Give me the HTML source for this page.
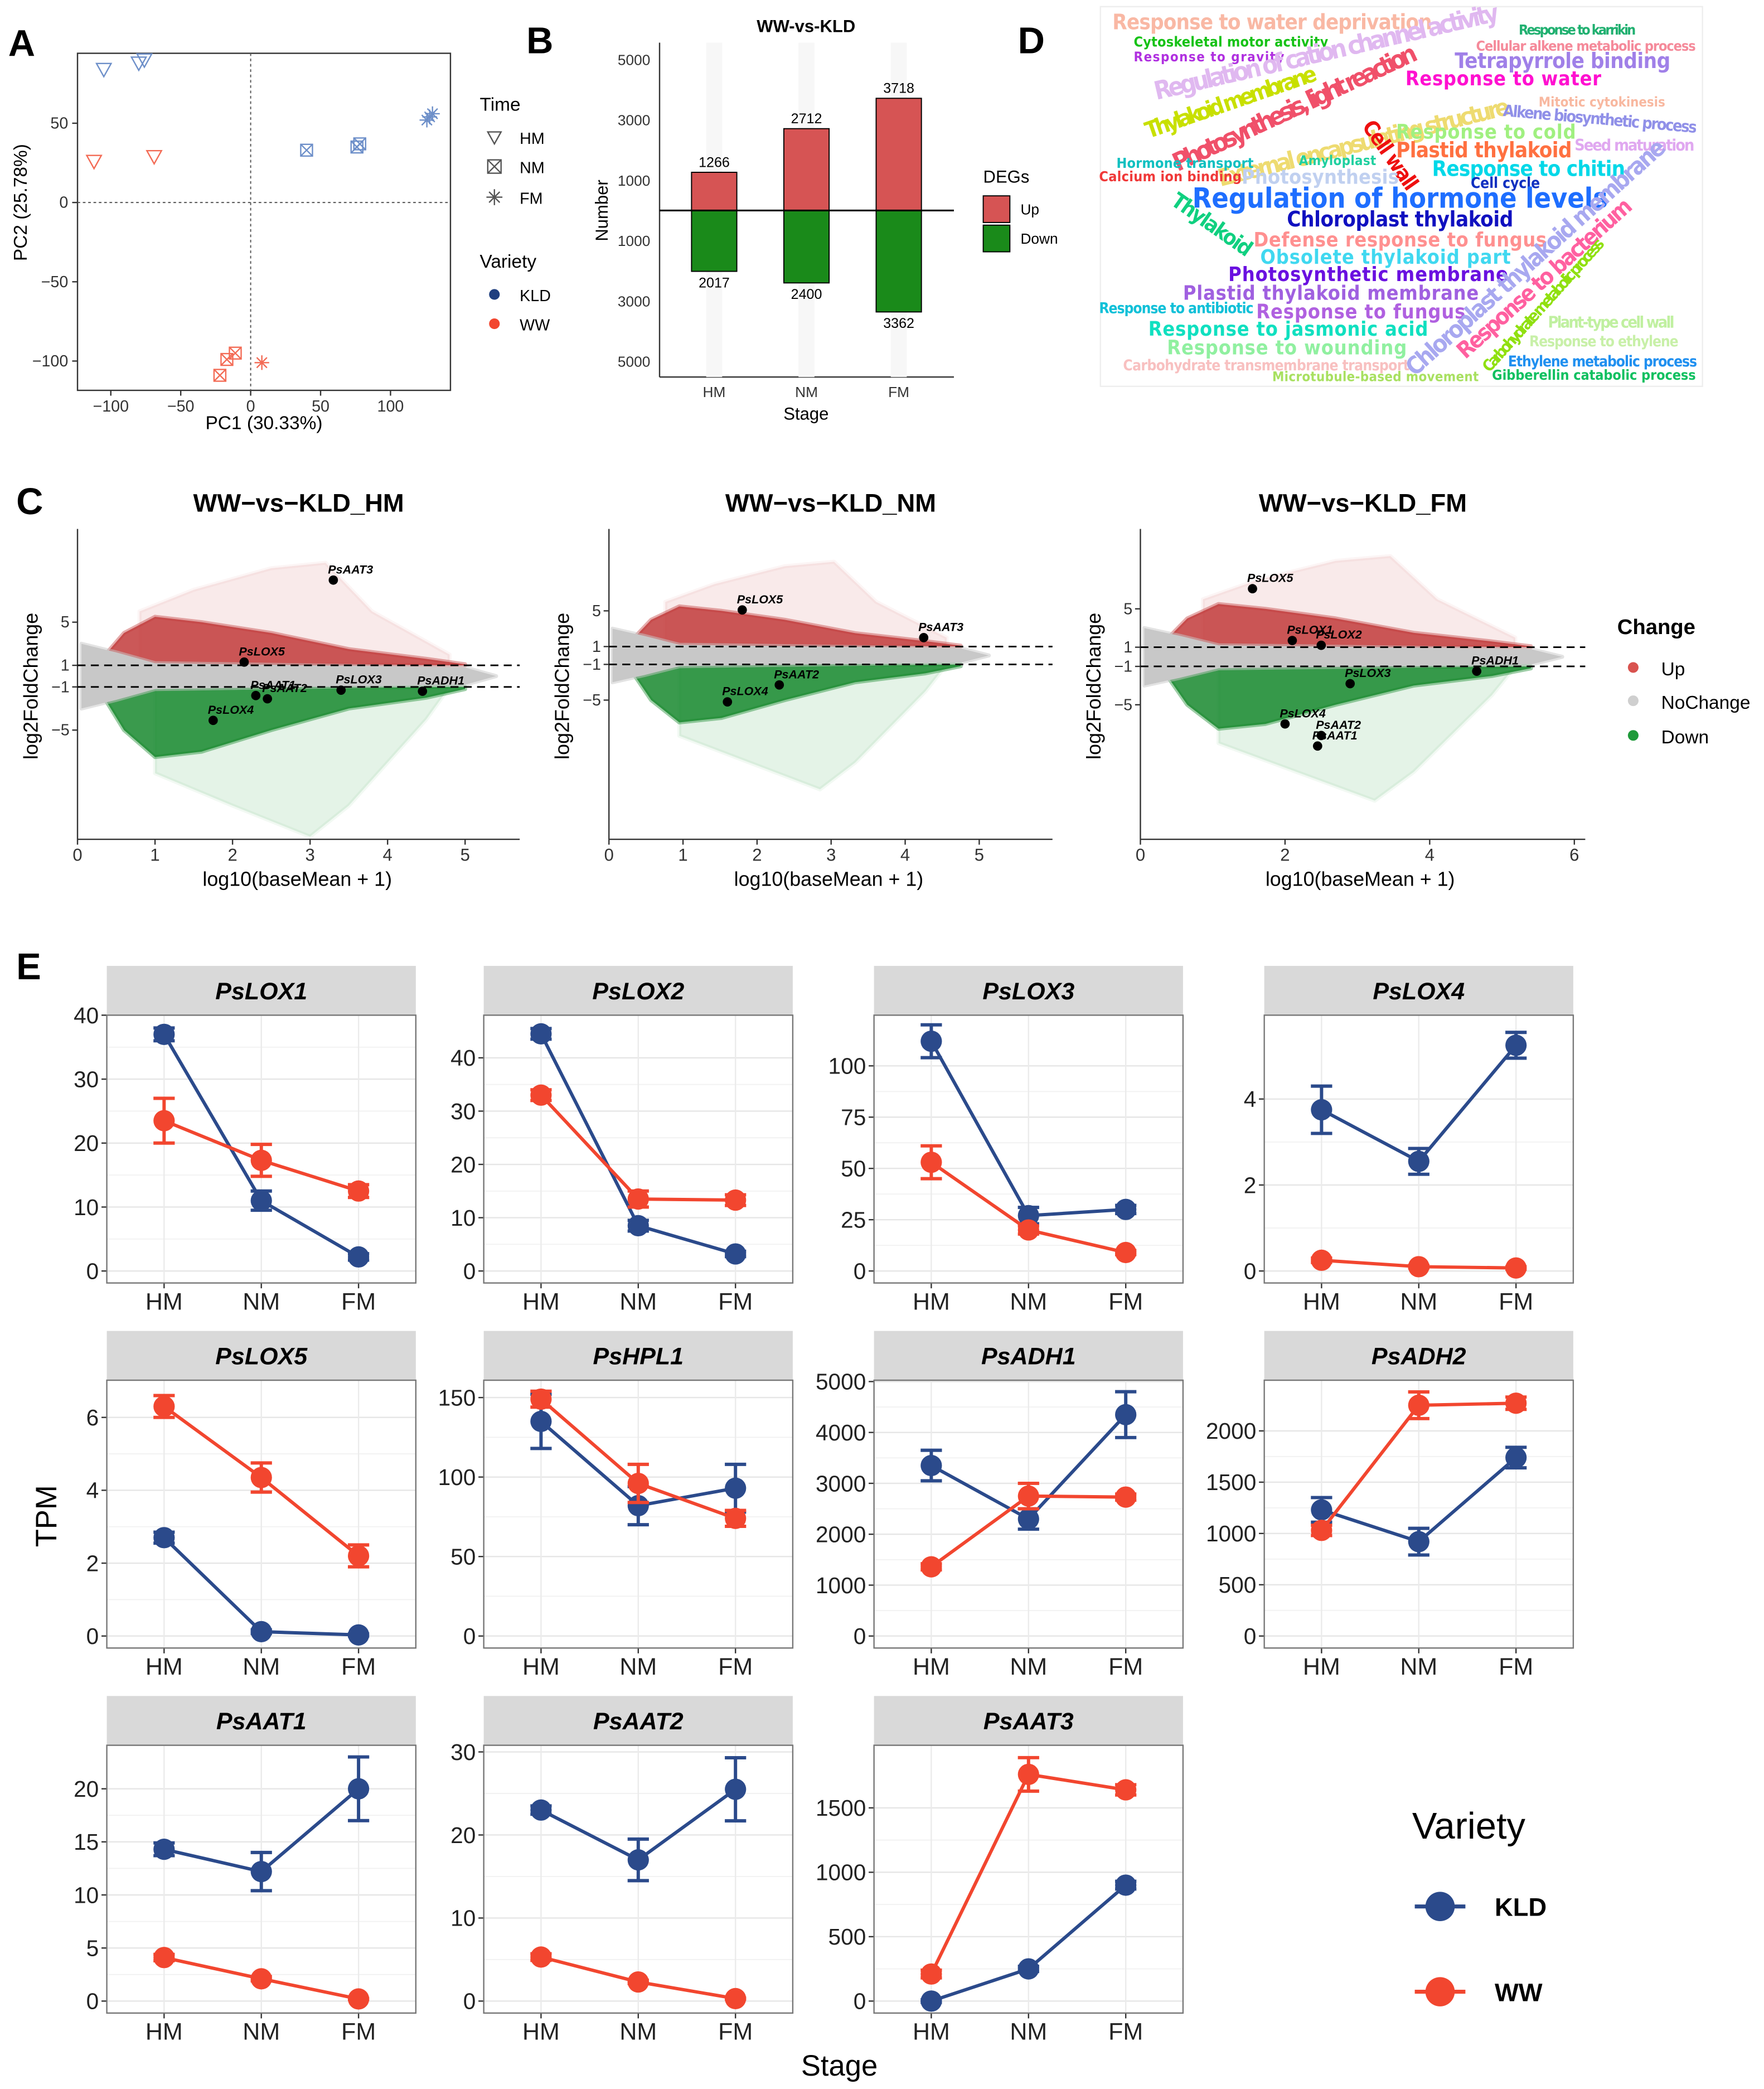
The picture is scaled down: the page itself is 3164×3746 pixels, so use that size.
<!DOCTYPE html>
<html><head><meta charset="utf-8">
<style>
html,body{margin:0;padding:0;background:#fff;}
svg{display:block;font-family:"Liberation Sans",Arial,sans-serif;}
.wc text{font-family:"DejaVu Sans Condensed","DejaVu Sans","Liberation Sans",sans-serif;font-weight:bold;}
</style></head>
<body>
<svg id="fig" width="3164" height="3746" viewBox="0 0 1324 1568" xmlns="http://www.w3.org/2000/svg">
<rect x="0" y="0" width="1324" height="1568" fill="#fff"/>
<text x="6" y="42" font-size="28" font-weight="bold">A</text>
<text x="395" y="40" font-size="28" font-weight="bold">B</text>
<text x="764" y="40" font-size="28" font-weight="bold">D</text>
<text x="12" y="386" font-size="28" font-weight="bold">C</text>
<text x="12" y="735" font-size="28" font-weight="bold">E</text>

<g id="panelA">
<rect x="58" y="40" width="280" height="253" fill="none" stroke="#333" stroke-width="1"/>
<text x="198" y="322" font-size="14" text-anchor="middle">PC1 (30.33%)</text>
<text transform="translate(20,152) rotate(-90)" font-size="14" text-anchor="middle">PC2 (25.78%)</text>
<text x="360" y="83" font-size="14">Time</text>
<text x="390" y="108" font-size="12">HM</text>
<text x="390" y="130" font-size="12">NM</text>
<text x="390" y="153" font-size="12">FM</text>
<text x="360" y="201" font-size="14">Variety</text>
<circle cx="371" cy="221" r="4" fill="#1f3f7f"/>
<text x="390" y="226" font-size="12">KLD</text>
<circle cx="371" cy="243" r="4" fill="#f2462f"/>
<text x="390" y="248" font-size="12">WW</text>
</g>

<g id="panelB">
<text x="605" y="24" font-size="13" font-weight="bold" text-anchor="middle">WW-vs-KLD</text>
<text x="605" y="315" font-size="13" text-anchor="middle">Stage</text>
<text transform="translate(456,158) rotate(-90)" font-size="13" text-anchor="middle">Number</text>
<text x="738" y="137" font-size="13">DEGs</text>
<rect x="738" y="147" width="20" height="20" fill="#d65454" stroke="#000" stroke-width="0.8"/>
<text x="766" y="161" font-size="11">Up</text>
<rect x="738" y="169" width="20" height="20" fill="#1a8a1a" stroke="#000" stroke-width="0.8"/>
<text x="766" y="183" font-size="11">Down</text>
</g>

<g class="wc">
<rect x="826" y="5" width="452" height="285" fill="#fff" stroke="#eee"/>
<text x="835" y="22" font-size="16" fill="#f9b8a4" textLength="240">Response to water deprivation</text>
<text x="851" y="35" font-size="10.5" fill="#17c217" textLength="146">Cytoskeletal motor activity</text>
<text x="851" y="46" font-size="10" fill="#b030e0" textLength="113">Response to gravity</text>
<text transform="translate(868,75) rotate(-13)" font-size="19" fill="#e0b8f0" textLength="265">Regulation of cation channel activity</text>
<text transform="translate(862,104) rotate(-19)" font-size="17" fill="#c8e000" textLength="135">Thylakoid membrane</text>
<text transform="translate(884,129) rotate(-25)" font-size="19" fill="#f0506a" textLength="200">Photosynthesis, light reaction</text>
<text transform="translate(916,140) rotate(-14)" font-size="18" fill="#eedb70" textLength="225">External encapsulating structure</text>
<text x="1140" y="26" font-size="10.5" fill="#20b070" textLength="88">Response to karrikin</text>
<text x="1108" y="38" font-size="10.5" fill="#f58a9a" textLength="165">Cellular alkene metabolic process</text>
<text x="1092" y="51" font-size="16" fill="#a080e8" textLength="162">Tetrapyrrole binding</text>
<text x="1055" y="64" font-size="15" fill="#ff10d0" textLength="147">Response to water</text>
<text x="1155" y="80" font-size="10" fill="#f8b8a0" textLength="95">Mitotic cytokinesis</text>
<text transform="translate(1128,87) rotate(5)" font-size="12" fill="#9090e8" textLength="146">Alkene biosynthetic process</text>
<text x="1048" y="104" font-size="15" fill="#a0f080" textLength="135">Response to cold</text>
<text transform="translate(1022,95) rotate(55)" font-size="16" fill="#ee1010" textLength="60">Cell wall</text>
<text x="1048" y="118" font-size="16" fill="#ff7040" textLength="132">Plastid thylakoid</text>
<text x="1182" y="113" font-size="12" fill="#e0a8f0" textLength="90">Seed maturation</text>
<text x="838" y="126" font-size="10.5" fill="#10c0c0" textLength="103">Hormone transport</text>
<text x="825" y="136" font-size="10.5" fill="#f03838" textLength="107">Calcium ion binding</text>
<text x="932" y="138" font-size="15" fill="#c0d0f0" textLength="118">Photosynthesis</text>
<text x="975" y="124" font-size="10" fill="#20d0a0" textLength="58">Amyloplast</text>
<text x="1075" y="132" font-size="16" fill="#00d8e8" textLength="145">Response to chitin</text>
<text x="1104" y="141" font-size="11" fill="#1030c0" textLength="52">Cell cycle</text>
<text x="895" y="156" font-size="21" fill="#1e6eff" textLength="312">Regulation of hormone levels</text>
<text transform="translate(878,153) rotate(35)" font-size="16" fill="#10d080" textLength="70">Thylakoid</text>
<text x="966" y="170" font-size="16" fill="#1010c0" textLength="170">Chloroplast thylakoid</text>
<text x="941" y="185" font-size="15" fill="#ff9090" textLength="220">Defense response to fungus</text>
<text x="946" y="198" font-size="15" fill="#40d8f0" textLength="188">Obsolete thylakoid part</text>
<text x="922" y="211" font-size="15" fill="#6a10e0" textLength="210">Photosynthetic membrane</text>
<text x="888" y="225" font-size="15" fill="#a060e0" textLength="222">Plastid thylakoid membrane</text>
<text x="825" y="235" font-size="11" fill="#10c0d8" textLength="116">Response to antibiotic</text>
<text x="943" y="239" font-size="15" fill="#b060e0" textLength="157">Response to fungus</text>
<text x="862" y="252" font-size="15" fill="#10e0c0" textLength="210">Response to jasmonic acid</text>
<text x="876" y="266" font-size="15" fill="#90f0a0" textLength="180">Response to wounding</text>
<text x="843" y="278" font-size="11" fill="#f8c0c0" textLength="215">Carbohydrate transmembrane transport</text>
<text x="955" y="286" font-size="10" fill="#a8e060" textLength="155">Microtubule-based movement</text>
<text transform="translate(1062,283) rotate(-42)" font-size="18" fill="#a8a8f0" textLength="255">Chloroplast thylakoid membrane</text>
<text transform="translate(1100,270) rotate(-42)" font-size="17" fill="#ff60a0" textLength="170">Response to bacterium</text>
<text transform="translate(1118,280) rotate(-48)" font-size="12" fill="#90e010" textLength="130">Carbohydrate metabolic process</text>
<text x="1162" y="246" font-size="12" fill="#c0f0a0" textLength="95">Plant-type cell wall</text>
<text x="1148" y="260" font-size="11" fill="#c8f0a8" textLength="112">Response to ethylene</text>
<text x="1132" y="275" font-size="11" fill="#2090f0" textLength="142">Ethylene metabolic process</text>
<text x="1120" y="285" font-size="10.5" fill="#10c060" textLength="153">Gibberellin catabolic process</text>
</g>

<g>
<text x="1214" y="476" font-size="16" font-weight="bold">Change</text>
<circle cx="1226" cy="501" r="4" fill="#d9534f"/>
<text x="1247" y="507" font-size="14">Up</text>
<circle cx="1226" cy="526" r="4" fill="#cfcfcf"/>
<text x="1247" y="532" font-size="14">NoChange</text>
<circle cx="1226" cy="552" r="4" fill="#1f9a3a"/>
<text x="1247" y="558" font-size="14">Down</text>
</g>

<text transform="translate(42,1138) rotate(-90)" font-size="22" text-anchor="middle">TPM</text>
<text x="630" y="1558" font-size="22" text-anchor="middle">Stage</text>
<g>
<text x="1060" y="1380" font-size="28">Variety</text>
<line x1="1062" y1="1431" x2="1100" y2="1431" stroke="#2b4a8b" stroke-width="3"/>
<circle cx="1081" cy="1431" r="11" fill="#2b4a8b"/>
<text x="1122" y="1438" font-size="19" font-weight="bold">KLD</text>
<line x1="1062" y1="1495" x2="1100" y2="1495" stroke="#f2462f" stroke-width="3"/>
<circle cx="1081" cy="1495" r="11" fill="#f2462f"/>
<text x="1122" y="1502" font-size="19" font-weight="bold">WW</text>
</g>

<g id="dyn"></g>
</svg>

<script>
const pcaPC1 = [-105,-80,-76,-112,-69, 40,76,78, 126,130,128, -22,-17,-11, 8];
const pcaPC2 = [84,88,90,26,29, 33,35,37, 52,56,54, -109,-99,-95,-101];
const pcaTime = ['HM','HM','HM','HM','HM','NM','NM','NM','FM','FM','FM','NM','NM','NM','FM'];
const pcaVariety = ['KLD','KLD','KLD','WW','WW','KLD','KLD','KLD','KLD','KLD','KLD','WW','WW','WW','WW'];
const pcaXTicks = [-100,-50,0,50,100];
const pcaYTicks = [50,0,-50,-100];

const degStages = ['HM','NM','FM'];
const degUp = [1266,2712,3718];
const degDown = [2017,2400,3362];
const degTicks = [5000,3000,1000,-1000,-3000,-5000];

const maTitles = ['WW\u2212vs\u2212KLD_HM','WW\u2212vs\u2212KLD_NM','WW\u2212vs\u2212KLD_FM'];
const maXTicks = [[0,1,2,3,4,5],[0,1,2,3,4,5],[0,2,4,6]];
const maGenes1 = ['PsAAT3','PsLOX5','PsLOX3','PsAAT1','PsAAT2','PsADH1','PsLOX4'];
const maMean1 = [3.3,2.15,3.4,2.3,2.45,4.45,1.75];
const maFC1 = [8.9,1.3,-1.3,-1.8,-2.1,-1.4,-4.1];
const maGenes2 = ['PsLOX5','PsAAT3','PsAAT2','PsLOX4'];
const maMean2 = [1.8,4.25,2.3,1.6];
const maFC2 = [5.1,2.0,-3.3,-5.2];
const maGenes3 = ['PsLOX5','PsLOX1','PsLOX2','PsADH1','PsLOX3','PsLOX4','PsAAT2','PsAAT1'];
const maMean3 = [1.55,2.1,2.5,4.65,2.9,2.0,2.5,2.45];
const maFC3 = [7.1,1.7,1.2,-1.5,-2.8,-7.0,-8.2,-9.3];
const upDenseMean = [0.3,0.6,1,1.6,2.5,3.5,4.5,5.0,5.0,0.3];
const upDenseFC =   [1.5,4,5.5,5,4,2.5,1.6,1.1,1,1];
const upSparseMean = [0.8,1.5,2.5,3.2,3.8,4.8,4.8,0.8];
const upSparseFC =   [6,8,10,10.5,6,2,1,1];
const dnDenseMean = [0.3,0.6,1,1.6,2.5,3.5,4.5,5.0,5.0,0.3];
const dnDenseFC =   [-1.5,-5,-7.5,-7,-5,-3,-2,-1.2,-1,-1];
const dnSparseMean = [1,2,3,3.5,4.5,4.8,1];
const dnSparseFC =   [-9,-12,-15,-12,-4,-1,-1];
const grayMean = [0.05,0.5,1,3,5,5.4,5,3,1,0.5,0.05];
const grayFC =   [3,2.2,1.2,1,0.8,0,-0.8,-1,-1.2,-2.2,-3];

const genes = ['PsLOX1','PsLOX2','PsLOX3','PsLOX4','PsLOX5','PsHPL1','PsADH1','PsADH2','PsAAT1','PsAAT2','PsAAT3'];
const stages = ['HM','NM','FM'];
const kldMean = [[37,11,2.2],[44.5,8.5,3.2],[112,27,30],[3.75,2.55,5.25],[2.7,0.12,0.03],[135,82,93],[3350,2300,4350],[1230,920,1740],[14.3,12.2,20],[23,17,25.5],[0,250,900]];
const kldErr  = [[1,1.5,0.5],[1,1,0.5],[8,4,2],[0.55,0.3,0.3],[0.15,0.05,0.03],[17,12,15],[300,200,450],[120,130,100],[0.6,1.8,3],[0.5,2.5,3.8],[10,20,30]];
const wwMean  = [[23.5,17.3,12.5],[33,13.5,13.3],[53,20,9],[0.25,0.1,0.07],[6.3,4.35,2.2],[149,96,74],[1360,2750,2730],[1030,2250,2270],[4.1,2.1,0.2],[5.3,2.3,0.3],[210,1760,1640]];
const wwErr   = [[3.5,2.5,1],[1,1.5,1],[8,2,1],[0.05,0.03,0.03],[0.3,0.4,0.3],[5,12,5],[60,250,60],[50,130,60],[0.3,0.2,0.05],[0.4,0.2,0.05],[30,130,40]];
const yTop = [40,48,124.7,5.95,7.02,160.9,5026,2494,24.1,30.8,1986];
const yTicks = [[0,10,20,30,40],[0,10,20,30,40],[0,25,50,75,100],[0,2,4],[0,2,4,6],[0,50,100,150],[0,1000,2000,3000,4000,5000],[0,500,1000,1500,2000],[0,5,10,15,20],[0,10,20,30],[0,500,1000,1500]];

const NS='http://www.w3.org/2000/svg';
const root=document.getElementById('dyn');
function mk(tag,attrs,parent){const e=document.createElementNS(NS,tag);for(const k in attrs)e.setAttribute(k,attrs[k]);(parent||root).appendChild(e);return e;}
function txt(s,attrs,parent){const e=mk('text',attrs,parent);e.textContent=s;return e;}

const xA=v=>188+v*1.05, yA=v=>152-v*1.19;
{
 const g=mk('g',{});
 
 
 mk('line',{x1:xA(0),y1:40,x2:xA(0),y2:293,stroke:'#555','stroke-dasharray':'2,2','stroke-width':0.8},g);
 mk('line',{x1:58,y1:yA(0),x2:338,y2:yA(0),stroke:'#555','stroke-dasharray':'2,2','stroke-width':0.8},g);
 pcaXTicks.forEach(t=>{mk('line',{x1:xA(t),x2:xA(t),y1:293,y2:297,stroke:'#333'},g);
  const l=txt(t<0?'\u2212'+(-t):String(t),{x:xA(t),y:309,'font-size':12,'text-anchor':'middle',fill:'#333'},g);
  
  });
 pcaYTicks.forEach(t=>{mk('line',{x1:54,x2:58,y1:yA(t),y2:yA(t),stroke:'#333'},g);
  const l=txt(t<0?'\u2212'+(-t):String(t),{x:51,y:yA(t)+4,'font-size':12,'text-anchor':'end',fill:'#333'},g);
  
  });
 pcaPC1.forEach((v,i)=>{
  const cx=xA(v),cy=yA(pcaPC2[i]),c=pcaVariety[i]==='KLD'?'#6d8fc9':'#f36b55';
  const p=mk('g',{stroke:c,fill:'none','stroke-width':1},g);
  
  
  const s=5.5;
  if(pcaTime[i]==='HM'){mk('polygon',{points:`${cx-s},${cy-s*0.8} ${cx+s},${cy-s*0.8} ${cx},${cy+s}`},p);}
  else if(pcaTime[i]==='NM'){mk('rect',{x:cx-s*0.8,y:cy-s*0.8,width:s*1.6,height:s*1.6},p);mk('path',{d:`M${cx-s*0.8},${cy-s*0.8}L${cx+s*0.8},${cy+s*0.8}M${cx+s*0.8},${cy-s*0.8}L${cx-s*0.8},${cy+s*0.8}`},p);}
  else {mk('path',{d:`M${cx-s},${cy}L${cx+s},${cy}M${cx},${cy-s}L${cx},${cy+s}M${cx-s*0.7},${cy-s*0.7}L${cx+s*0.7},${cy+s*0.7}M${cx+s*0.7},${cy-s*0.7}L${cx-s*0.7},${cy+s*0.7}`},p);}
 });
 const lg=mk('g',{stroke:'#555',fill:'none'},g);
 mk('polygon',{points:'366,99 376,99 371,108'},lg);
 mk('rect',{x:366,y:120,width:10,height:10},lg);mk('path',{d:'M366,120L376,130M376,120L366,130'},lg);
 mk('path',{d:'M365,148L377,148M371,142L371,154M367,144L375,152M375,144L367,152'},lg);
}

const yB=v=>158-v*0.02265;
const xB=i=>536+i*69.3;
{
 const g=mk('g',{});
 
 
 mk('line',{x1:495,y1:32,x2:495,y2:283,stroke:'#333'},g);
 mk('line',{x1:495,y1:283,x2:716,y2:283,stroke:'#333'},g);
 degStages.forEach((s,i)=>{mk('rect',{x:xB(i)-6,y:32,width:12,height:251,fill:'#f7f7f7'},g);});
 degTicks.forEach(t=>{const l=txt(String(Math.abs(t)),{x:488,y:yB(t)+4,'font-size':11,'text-anchor':'end',fill:'#333'},g);
  
  });
 degStages.forEach((s,i)=>{
  const u=mk('rect',{x:xB(i)-17,y:yB(degUp[i]),width:34,height:158-yB(degUp[i]),fill:'#d65454',stroke:'#000','stroke-width':0.8},g);
  
  
  const d=mk('rect',{x:xB(i)-17,y:158,width:34,height:yB(-degDown[i])-158,fill:'#1a8a1a',stroke:'#000','stroke-width':0.8},g);
  
  
  txt(String(degUp[i]),{x:xB(i),y:yB(degUp[i])-4,'font-size':10.5,'text-anchor':'middle'},g);
  txt(String(degDown[i]),{x:xB(i),y:yB(-degDown[i])+12,'font-size':10.5,'text-anchor':'middle'},g);
  const xl=txt(s,{x:xB(i),y:298,'font-size':11,'text-anchor':'middle',fill:'#333'},g);
  
  
 });
 mk('line',{x1:495,y1:158,x2:716,y2:158,stroke:'#000','stroke-width':1.3},g);
}

const maCfg=[{x0:58,sx:58.2,yc:507.5,sy:8.1,right:390,ext:1},{x0:457,sx:55.6,yc:492,sy:6.7,right:790,ext:0.95},{x0:856,sx:54.3,yc:493,sy:7.2,right:1190,ext:1.08}];
const maGenes=[maGenes1,maGenes2,maGenes3], maMean=[maMean1,maMean2,maMean3], maFC=[maFC1,maFC2,maFC3];
maCfg.forEach((c,k)=>{
 const X=v=>c.x0+v*c.ext*c.sx, Y=v=>Math.max(400,Math.min(628,c.yc-v*c.sy));
 const XG=v=>c.x0+v*c.sx;
 const g=mk('g',{});
 
 
 const t=txt(maTitles[k],{x:(c.x0+c.right)/2,y:384,'font-size':19,'font-weight':'bold','text-anchor':'middle'},g);
 
 
 const poly=(ms,fs,fill,op)=>mk('polygon',{points:ms.map((m,i)=>X(m)+','+Y(fs[i])).join(' '),fill:fill,'fill-opacity':op,stroke:fill,'stroke-opacity':op*0.5,'stroke-width':3,'stroke-linejoin':'round'},g);
 poly(upSparseMean,upSparseFC,'#d05050',0.12);
 poly(dnSparseMean,dnSparseFC,'#1f9a3a',0.12);
 poly(upDenseMean,upDenseFC,'#c23b3b',0.85);
 poly(dnDenseMean,dnDenseFC,'#18882e',0.85);
 poly(grayMean,grayFC,'#c8c8c8',1);
 mk('line',{x1:c.x0,y1:397,x2:c.x0,y2:630,stroke:'#333'},g);
 mk('line',{x1:c.x0,y1:630,x2:c.right,y2:630,stroke:'#333'},g);
 mk('line',{x1:c.x0,y1:c.yc-c.sy,x2:c.right,y2:c.yc-c.sy,stroke:'#000','stroke-dasharray':'6,4','stroke-width':1.2},g);
 mk('line',{x1:c.x0,y1:c.yc+c.sy,x2:c.right,y2:c.yc+c.sy,stroke:'#000','stroke-dasharray':'6,4','stroke-width':1.2},g);
 [[5,'5'],[1,'1'],[-1,'\u22121'],[-5,'\u22125']].forEach(([v,s])=>{
  mk('line',{x1:c.x0-4,x2:c.x0,y1:c.yc-v*c.sy,y2:c.yc-v*c.sy,stroke:'#333'},g);
  const l=txt(s,{x:c.x0-6,y:c.yc-v*c.sy+4,'font-size':12,'text-anchor':'end',fill:'#333'},g);
  
  });
 maXTicks[k].forEach(v=>{mk('line',{x1:XG(v),x2:XG(v),y1:630,y2:634,stroke:'#333'},g);
  const l=txt(String(v),{x:XG(v),y:646,'font-size':13,'text-anchor':'middle',fill:'#333'},g);
  
  });
 const xt=txt('log10(baseMean + 1)',{x:c.x0+165,y:665,'font-size':15,'text-anchor':'middle'},g);
 
 
 const yt=txt('log2FoldChange',{transform:`translate(${c.x0-30},515) rotate(-90)`,'font-size':15,'text-anchor':'middle'},g);
 
 
 maGenes[k].forEach((n,i)=>{
  const px=XG(maMean[k][i]),py=c.yc-maFC[k][i]*c.sy;
  const p=mk('circle',{cx:px,cy:py,r:3.5,fill:'#000'},g);
  
  
  const l=txt(n,{x:px-4,y:py-5,'font-size':9,'font-style':'italic','font-weight':'bold'},g);
  
  
 });
});

const colL=[80,363,656,949], rowT=[725,999,1273];
const KC='#2b4a8b', WC='#f2462f';
genes.forEach((gname,gi)=>{
 const col=gi%4,row=Math.floor(gi/4);
 const L=colL[col],T=rowT[row],W=232,SH=37,PT=T+SH,PH=201,base=PT+192;
 const Y=v=>base-v*192/yTop[gi];
 const X=i=>L+43+i*73;
 const g=mk('g',{});
 
 
 const st=mk('rect',{x:L,y:T,width:W,height:SH,fill:'#d9d9d9'},g);
 
 
 const sl=txt(gname,{x:L+W/2,y:T+25,'font-size':18,'font-weight':'bold','font-style':'italic','text-anchor':'middle'},g);
 
 
 mk('rect',{x:L,y:PT,width:W,height:PH,fill:'#fff'},g);
 const tk=yTicks[gi];
 tk.forEach((v,i)=>{
  if(i<tk.length-1){const mv=(v+tk[i+1])/2;mk('line',{x1:L,x2:L+W,y1:Y(mv),y2:Y(mv),stroke:'#f2f2f2','stroke-width':0.8},g);}
  mk('line',{x1:L,x2:L+W,y1:Y(v),y2:Y(v),stroke:'#e6e6e6','stroke-width':1},g);
  mk('line',{x1:L-4,x2:L,y1:Y(v),y2:Y(v),stroke:'#333'},g);
  const l=txt(String(v),{x:L-6,y:Y(v)+6,'font-size':17,'text-anchor':'end',fill:'#222'},g);
  
  
 });
 stages.forEach((s,i)=>{mk('line',{x1:X(i),x2:X(i),y1:PT,y2:PT+PH,stroke:'#ebebeb'},g);
  mk('line',{x1:X(i),x2:X(i),y1:PT+PH,y2:PT+PH+4,stroke:'#333'},g);
  const l=txt(s,{x:X(i),y:PT+PH+20,'font-size':18,'text-anchor':'middle',fill:'#222'},g);
  
  });
 mk('rect',{x:L,y:PT,width:W,height:PH,fill:'none',stroke:'#777','stroke-width':1},g);
 [[kldMean,kldErr,KC,'kld'],[wwMean,wwErr,WC,'ww']].forEach(([M,E,c,nm])=>{
  const m=M[gi],e=E[gi];
  const ln=mk('polyline',{points:m.map((v,i)=>X(i)+','+Y(v)).join(' '),fill:'none',stroke:c,'stroke-width':2.5},g);
  
  
  m.forEach((v,i)=>{
   mk('path',{d:`M${X(i)-8},${Y(v+e[i])}H${X(i)+8}M${X(i)},${Y(v+e[i])}V${Y(v-e[i])}M${X(i)-8},${Y(v-e[i])}H${X(i)+8}`,stroke:c,'stroke-width':2.5,fill:'none'},g);
   const p=mk('circle',{cx:X(i),cy:Y(v),r:8,fill:c},g);
   
   
  });
 });
});
</script>
</body></html>
